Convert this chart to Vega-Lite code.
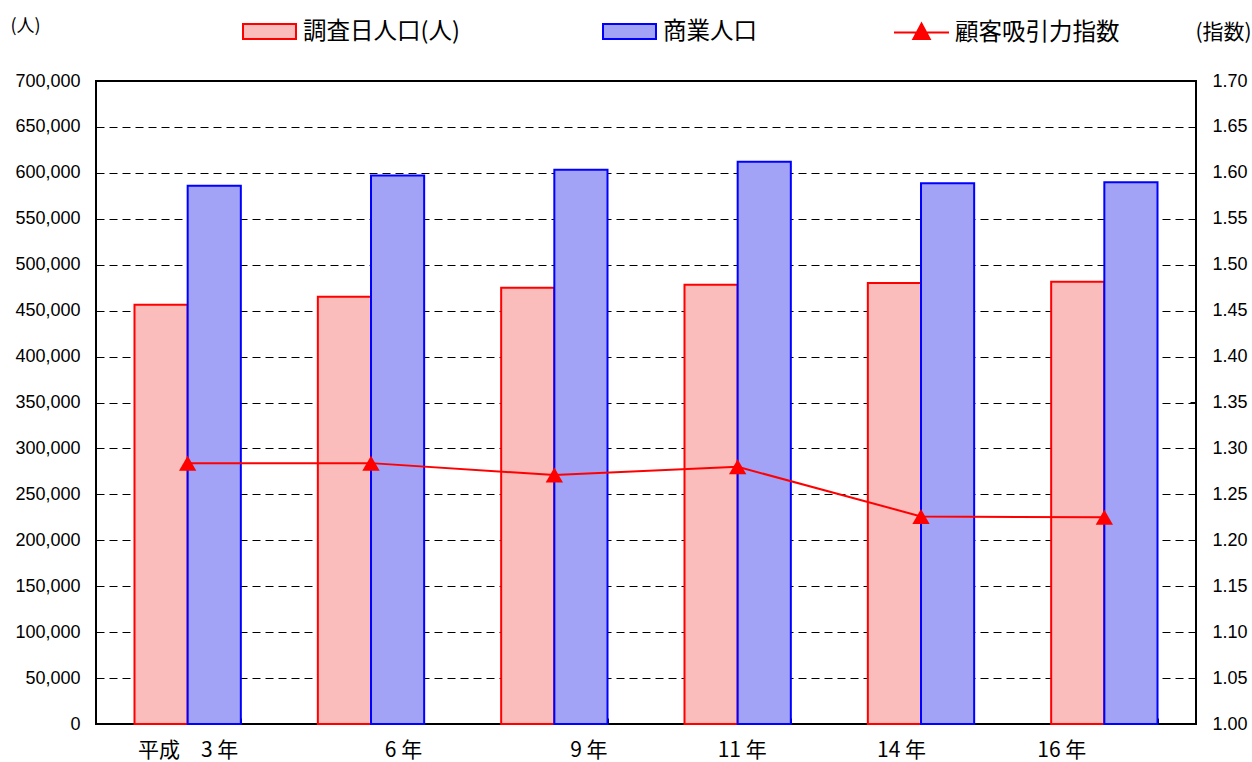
{
  "$schema": "https://vega.github.io/schema/vega-lite/v6.json",
  "width": 1100,
  "height": 643,
  "autosize": {"type": "none"},
  "padding": {"left": 96, "top": 81, "right": 56, "bottom": 38},
  "background": "white",
  "config": {
    "view": {"stroke": "#000000", "strokeWidth": 2},
    "axis": {"domain": false, "labelColor": "#000000", "tickColor": "#000000", "titleColor": "#000000"}
  },
  "datasets": {
    "bars": [
      {"year": "平成　3 年", "series": "調査日人口(人)", "value": 456400},
      {"year": "6 年", "series": "調査日人口(人)", "value": 465100},
      {"year": "9 年", "series": "調査日人口(人)", "value": 475000},
      {"year": "11 年", "series": "調査日人口(人)", "value": 478200},
      {"year": "14 年", "series": "調査日人口(人)", "value": 480100},
      {"year": "16 年", "series": "調査日人口(人)", "value": 481500},
      {"year": "平成　3 年", "series": "商業人口", "value": 586100},
      {"year": "6 年", "series": "商業人口", "value": 597000},
      {"year": "9 年", "series": "商業人口", "value": 603500},
      {"year": "11 年", "series": "商業人口", "value": 612200},
      {"year": "14 年", "series": "商業人口", "value": 588600},
      {"year": "16 年", "series": "商業人口", "value": 589700}
    ],
    "idx": [
      {"year": "平成　3 年", "index": 1.284},
      {"year": "6 年", "index": 1.284},
      {"year": "9 年", "index": 1.271},
      {"year": "11 年", "index": 1.280},
      {"year": "14 年", "index": 1.226},
      {"year": "16 年", "index": 1.225}
    ]
  },
  "encoding": {
    "x": {
      "field": "year", "type": "nominal",
      "sort": ["平成　3 年", "6 年", "9 年", "11 年", "14 年", "16 年"],
      "scale": {"paddingInner": 0.42, "paddingOuter": 0.21},
      "axis": {
        "title": null, "labelAngle": 0, "labelFont": "Noto Sans CJK JP", "labelFontSize": 21,
        "tickBand": "extent", "tickSize": -6, "labelPadding": 21, "grid": false,
        "labelOffset": {
          "condition": [
            {"test": "datum.value === '6 年'", "value": 32},
            {"test": "datum.value === '9 年'", "value": 34},
            {"test": "datum.value === '11 年'", "value": 4},
            {"test": "datum.value === '14 年'", "value": -20},
            {"test": "datum.value === '16 年'", "value": -43}
          ],
          "value": 0
        }
      }
    }
  },
  "layer": [
    {
      "data": {"name": "bars"},
      "mark": {"type": "bar", "strokeWidth": 2},
      "encoding": {
        "xOffset": {"field": "series", "sort": ["調査日人口(人)", "商業人口"]},
        "y": {
          "field": "value", "type": "quantitative",
          "scale": {"domain": [0, 700000], "nice": false},
          "axis": {
            "values": [0, 50000, 100000, 150000, 200000, 250000, 300000, 350000, 400000, 450000, 500000, 550000, 600000, 650000, 700000],
            "format": ",d", "labelFont": "Liberation Sans", "labelFontSize": 18,
            "tickSize": -6, "labelPadding": 22,
            "grid": true, "gridDash": [8, 5], "gridColor": "#000000", "gridWidth": 1, "gridOpacity": 1,
            "title": "(人)", "titleAngle": 0, "titleAlign": "left", "titleBaseline": "middle",
            "titleX": -86, "titleY": -55, "titleFont": "Noto Sans CJK JP", "titleFontSize": 18, "titleFontWeight": "normal"
          }
        },
        "fill": {
          "field": "series", "type": "nominal",
          "scale": {"domain": ["調査日人口(人)", "商業人口"], "range": ["#fbbcbc", "#a2a2f6"]},
          "legend": {
            "title": null, "orient": "none", "legendX": 146, "legendY": -77, "direction": "horizontal",
            "symbolType": "M-1,-0.283H1V0.283H-1Z", "symbolSize": 2809, "symbolStrokeWidth": 2,
            "labelFont": "Noto Sans CJK JP", "labelFontSize": 23.5, "labelColor": "#000000",
            "labelOffset": 6, "columnPadding": 139, "padding": 0, "labelLimit": 400,
            "encode": {
              "symbols": {
                "update": {
                  "stroke": [
                    {"test": "datum.value === '商業人口'", "value": "#0000ff"},
                    {"value": "#ff0000"}
                  ],
                  "strokeWidth": {"value": 2}
                }
              }
            }
          }
        },
        "stroke": {
          "field": "series", "type": "nominal",
          "scale": {"domain": ["調査日人口(人)", "商業人口"], "range": ["#ff0000", "#0000ff"]},
          "legend": null
        }
      }
    },
    {
      "data": {"name": "idx"},
      "encoding": {
        "y": {
          "field": "index", "type": "quantitative",
          "scale": {"domain": [1, 1.7], "nice": false, "zero": false},
          "axis": {
            "orient": "right",
            "values": [1.0, 1.05, 1.1, 1.15, 1.2, 1.25, 1.3, 1.35, 1.4, 1.45, 1.5, 1.55, 1.6, 1.65, 1.7],
            "format": ".2f", "labelFont": "Liberation Sans", "labelFontSize": 18,
            "tickSize": -6, "labelPadding": 22, "grid": false,
            "title": "(指数)", "titleAngle": 0, "titleAlign": "left", "titleBaseline": "middle",
            "titleX": -1, "titleY": -49, "titleFont": "Noto Sans CJK JP", "titleFontSize": 21, "titleFontWeight": "normal"
          }
        }
      },
      "layer": [
        {"mark": {"type": "line", "color": "#ff0000", "strokeWidth": 2}},
        {
          "mark": {"type": "point", "filled": true, "shape": "triangle-up", "opacity": 1, "size": 300},
          "encoding": {
            "fill": {
              "datum": "顧客吸引力指数",
              "scale": {"domain": ["顧客吸引力指数"], "range": ["#ff0000"]},
              "legend": {
                "title": null, "orient": "none", "legendX": 797, "legendY": -77, "padding": 0,
                "labelFont": "Noto Sans CJK JP", "labelFontSize": 23.5, "labelColor": "#000000", "labelOffset": 5,
                "labelLimit": 400,
                "symbolType": "M-1,0H1M-0.3,0.24L0,-0.32L0.3,0.24Z",
                "symbolSize": 3025, "symbolStrokeColor": "#ff0000", "symbolStrokeWidth": 2, "symbolOpacity": 1,
                "encode": {
                  "symbols": {
                    "update": {
                      "stroke": {"value": "#ff0000"},
                      "strokeWidth": {"value": 2}
                    }
                  }
                }
              }
            }
          }
        }
      ]
    }
  ],
  "resolve": {"scale": {"y": "independent", "fill": "independent"}}
}
